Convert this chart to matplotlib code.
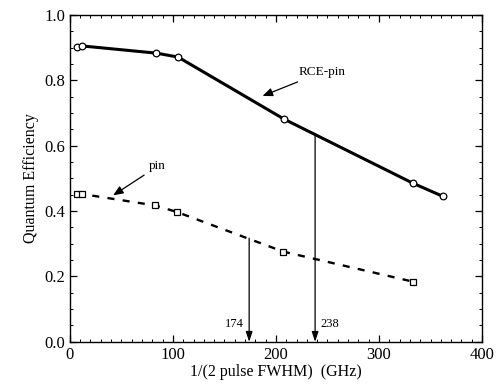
import matplotlib
matplotlib.use("Agg")
import matplotlib.pyplot as plt
from matplotlib.ticker import MultipleLocator

plt.rcParams['font.family'] = ['Liberation Serif', 'DejaVu Serif']

# RCE-pin detector (circles, solid line)
rce_x = [7, 12, 84, 105, 208, 333, 362]
rce_y = [0.903, 0.905, 0.883, 0.871, 0.681, 0.485, 0.445]

# conventional pin detector (squares, dashed line)
pin_x = [7, 12, 83, 104, 207, 333]
pin_y = [0.451, 0.452, 0.417, 0.397, 0.276, 0.184]

# bandwidth markers
mark_x = [174, 238]
mark_top = [0.317, 0.633]
mark_labels = ['174', '238']

fig = plt.figure(figsize=(4.99, 3.92), dpi=100)
ax = fig.add_axes([0.140, 0.128, 0.826, 0.834])

ax.plot(rce_x, rce_y, color='black', linewidth=2.2, marker='o', markersize=4.8,
        markerfacecolor='white', markeredgewidth=0.9, zorder=3)
ax.plot(pin_x, pin_y, color='black', linewidth=1.7, linestyle=(0, (3, 3.5)),
        marker='s', markersize=4.2, markerfacecolor='white', markeredgewidth=0.9, zorder=3)

for x, top in zip(mark_x, mark_top):
    ax.annotate('', xy=(x, 0.0), xytext=(x, top),
                arrowprops=dict(arrowstyle='-|>,head_length=0.6,head_width=0.2',
                                color='black', lw=0.9,
                                mutation_scale=10, shrinkA=0, shrinkB=0))
ax.text(mark_x[0] - 5, 0.035, mark_labels[0], ha='right', va='bottom', fontsize=9)
ax.text(mark_x[1] + 5, 0.035, mark_labels[1], ha='left', va='bottom', fontsize=9)

ax.annotate('RCE-pin', xy=(187, 0.752), xytext=(222, 0.825), fontsize=9.5,
            ha='left', va='center',
            arrowprops=dict(arrowstyle='-|>,head_length=0.6,head_width=0.25',
                            color='black', lw=0.9,
                            mutation_scale=10, shrinkA=2, shrinkB=0))
ax.annotate('pin', xy=(42, 0.448), xytext=(77, 0.537), fontsize=9.5,
            ha='left', va='center',
            arrowprops=dict(arrowstyle='-|>,head_length=0.6,head_width=0.25',
                            color='black', lw=0.9,
                            mutation_scale=10, shrinkA=2, shrinkB=0))

ax.set_xlim(0, 400)
ax.set_ylim(0.0, 1.0)
ax.xaxis.set_major_locator(MultipleLocator(100))
ax.xaxis.set_minor_locator(MultipleLocator(10))
ax.yaxis.set_major_locator(MultipleLocator(0.2))
ax.yaxis.set_minor_locator(MultipleLocator(0.05))
ax.set_yticklabels([f'{v:.1f}' for v in ax.get_yticks()])
ax.tick_params(which='both', direction='in', top=True, right=True, labelsize=12)
ax.tick_params(which='major', length=5, width=0.9)
ax.tick_params(which='minor', length=2.5, width=0.7)
for s in ax.spines.values():
    s.set_linewidth(1.0)

ax.set_xlabel('1/(2 pulse FWHM)  (GHz)', fontsize=11.5, labelpad=1)
ax.set_ylabel('Quantum Efficiency', fontsize=11.5, labelpad=4)

fig.savefig('out.png', dpi=100)
